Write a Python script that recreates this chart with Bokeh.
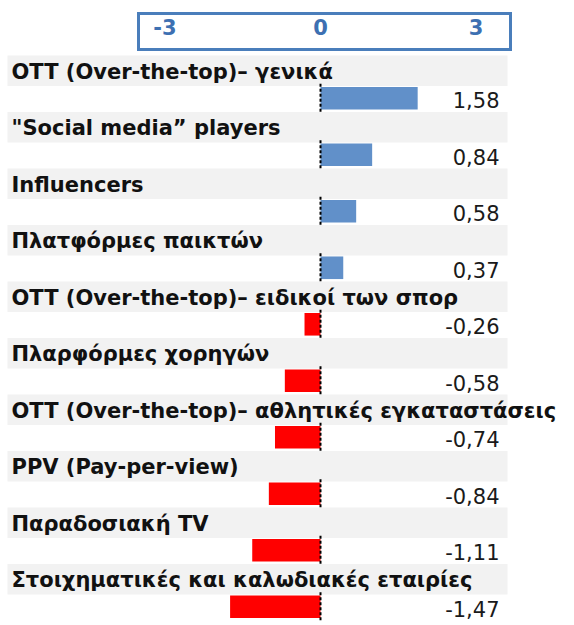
from bokeh.plotting import figure
from bokeh.models import Range1d, ColumnDataSource, FixedTicker
from bokeh.layouts import column
from bokeh.core.properties import value
from bokeh.embed import file_html
from bokeh.resources import INLINE

# ---- data ----
categories = [
    "OTT (Over-the-top)– γενικά",
    "\"Social media” players",
    "Influencers",
    "Πλατφόρμες παικτών",
    "OTT (Over-the-top)– ειδικοί των σπορ",
    "Πλαρφόρμες χορηγών",
    "OTT (Over-the-top)– αθλητικές εγκαταστάσεις",
    "PPV (Pay-per-view)",
    "Παραδοσιακή TV",
    "Στοιχηματικές και καλωδιακές εταιρίες",
]
values = [1.58, 0.84, 0.58, 0.37, -0.26, -0.58, -0.74, -0.84, -1.11, -1.47]
axis_ticks = [-3, 0, 3]

# ---- styling ----
FONT = "DejaVu Sans"
BLUE = "#6190c9"
RED = "#ff0000"
BAND = "#f2f2f2"
BOX = "#4a7ebb"
TICK_COLOR = "#3d70b2"

n = len(categories)
idx = list(range(n))
PX_PER_UNIT = 61.5
ZERO_PX = 320
MAIN_W = 574
MAIN_H = 574
ROW_PX = 56.5
X0 = -ZERO_PX / PX_PER_UNIT
X1 = (MAIN_W - ZERO_PX) / PX_PER_UNIT

src = ColumnDataSource(dict(
    idx=idx,
    cat=categories,
    val=values,
    lab=[f"{v:.2f}".replace(".", ",") for v in values],
    color=[BLUE if v >= 0 else RED for v in values],
    band_y=[i + 0.27 for i in idx],
    text_y=[i + 0.29 for i in idx],
    bar_y=[i + 0.757 for i in idx],
    vtext_y=[i + 0.79 for i in idx],
    zl0=[i + 0.5 for i in idx],
    zl1=[i + 1.0 for i in idx],
    zero=[0] * n,
))

# ---- top axis box ----
AX_PX = 51.83
AX_START = -3 - 24.5 / AX_PX
AX_END = AX_START + 375 / AX_PX
top = figure(width=375, height=39, x_range=Range1d(AX_START, AX_END), y_range=Range1d(0, 1),
             output_backend="svg", toolbar_location=None,
             x_axis_location="above", y_axis_location=None,
             min_border_left=0, min_border_right=0, min_border_top=11, min_border_bottom=0,
             outline_line_color=None,
             margin=(12, 0, 0, 137),
             styles={"border": f"3.5px solid {BOX}", "box-sizing": "border-box"})
top.xaxis.ticker = FixedTicker(ticks=axis_ticks)
top.xaxis.major_label_overrides = {t: str(t) for t in axis_ticks}
top.xaxis.axis_line_color = None
top.xaxis.major_tick_line_color = None
top.xaxis.minor_tick_line_color = None
top.xaxis.major_label_standoff = 0
top.xaxis.major_label_text_font = FONT
top.xaxis.major_label_text_font_size = "21px"
top.xaxis.major_label_text_font_style = "bold"
top.xaxis.major_label_text_color = TICK_COLOR
top.grid.visible = False

# ---- main chart ----
main = figure(width=MAIN_W, height=MAIN_H, x_range=Range1d(X0, X1),
              y_range=Range1d((MAIN_H - 4) / ROW_PX, -4 / ROW_PX),
              output_backend="svg", toolbar_location=None,
              x_axis_location=None, y_axis_location=None,
              min_border=0, outline_line_color=None)
main.grid.visible = False

band_left = (7 - ZERO_PX) / PX_PER_UNIT
band_right = (507 - ZERO_PX) / PX_PER_UNIT
main.hbar(y="band_y", height=0.54, left=band_left, right=band_right, source=src,
          fill_color=BAND, line_color=None)
main.hbar(y="bar_y", height=0.40, left=0, right="val", source=src,
          fill_color="color", line_color=None)
main.segment(x0="zero", y0="zl0", x1="zero", y1="zl1", source=src,
             line_color="black", line_width=2, line_dash="3 2")
main.text(x=(11 - ZERO_PX) / PX_PER_UNIT, y="text_y", text="cat", source=src,
          text_font=value(FONT), text_font_size="21px", text_font_style="bold",
          text_color="#111111", text_baseline="middle", text_align="left")
main.text(x=(499 - ZERO_PX) / PX_PER_UNIT, y="vtext_y", text="lab", source=src,
          text_font=value(FONT), text_font_size="21px",
          text_color="#1a1a1a", text_baseline="middle", text_align="right")

layout = column(top, main)
open("out.html", "w").write(file_html(layout, INLINE))
